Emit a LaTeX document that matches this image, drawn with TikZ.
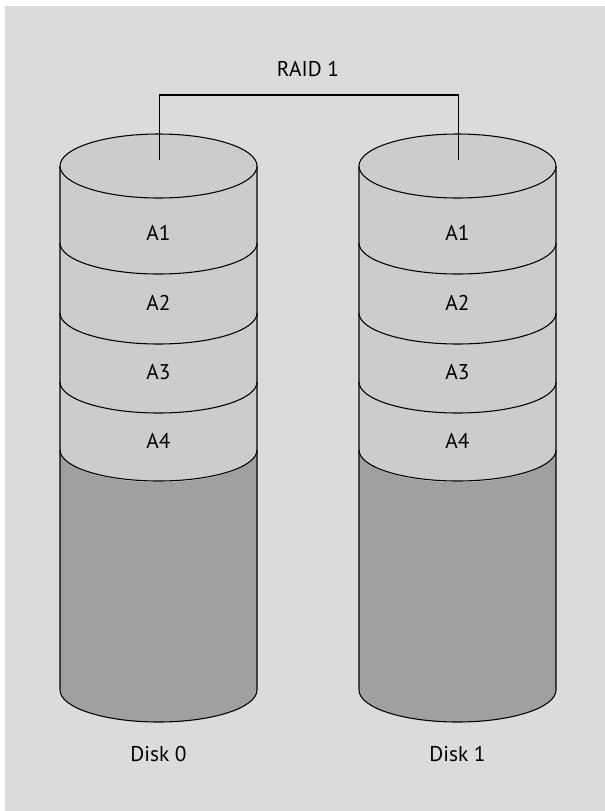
\documentclass[tikz,border=0pt]{standalone}
\usepackage{fontspec}
\setmainfont{PT Sans}
\definecolor{bg}{HTML}{DBDBDB}
\definecolor{band}{HTML}{CCCCCC}
\definecolor{dark}{HTML}{A0A0A0}
\begin{document}
\begin{tikzpicture}[x=0.75pt,y=-0.75pt,
  lbl/.style={font=\fontsize{16}{19}\selectfont, inner sep=0pt},
  edge/.style={draw=black, line width=0.8pt}]
\useasboundingbox (0,0) rectangle (605,811);
\fill[bg] (5,6) rectangle (605,811);
\foreach \cx/\n in {158.5/0, 457.5/1}{
  % dark lower part
  \fill[dark] (\cx-98.5,450) -- (\cx-98.5,690)
     arc[start angle=180, end angle=0, x radius=98.5, y radius=32]
     -- (\cx+98.5,450)
     arc[start angle=0, end angle=180, x radius=98.5, y radius=32] -- cycle;
  % light upper part
  \fill[band] (\cx-98.5,166) -- (\cx-98.5,450)
     arc[start angle=180, end angle=0, x radius=98.5, y radius=32]
     -- (\cx+98.5,166)
     arc[start angle=0, end angle=180, x radius=98.5, y radius=32] -- cycle;
  % outline
  \draw[edge] (\cx-98.5,166) -- (\cx-98.5,690)
     arc[start angle=180, end angle=0, x radius=98.5, y radius=32]
     -- (\cx+98.5,166);
  \draw[edge, fill=band] (\cx,166) ellipse[x radius=98.5, y radius=32];
  \foreach \y in {243,313,382,450}{
    \draw[edge] (\cx-98.5,\y) arc[start angle=180, end angle=0, x radius=98.5, y radius=31];
  }
  \node[lbl] (a1d\n) at (\cx,233) {A1};
  \node[lbl] (a2d\n) at (\cx,303) {A2};
  \node[lbl] (a3d\n) at (\cx,372) {A3};
  \node[lbl] (a4d\n) at (\cx,441) {A4};
  \node[lbl] (disk\n) at (\cx,754) {Disk \n};
  \coordinate (c\n) at (\cx+1,160);
  \coordinate (j\n) at (\cx+1,95);
}
\node[lbl] (raid) at (308,69) {RAID 1};
\draw[edge] (c0) -- (j0) -- (j1) -- (c1);
\end{tikzpicture}
\end{document}
